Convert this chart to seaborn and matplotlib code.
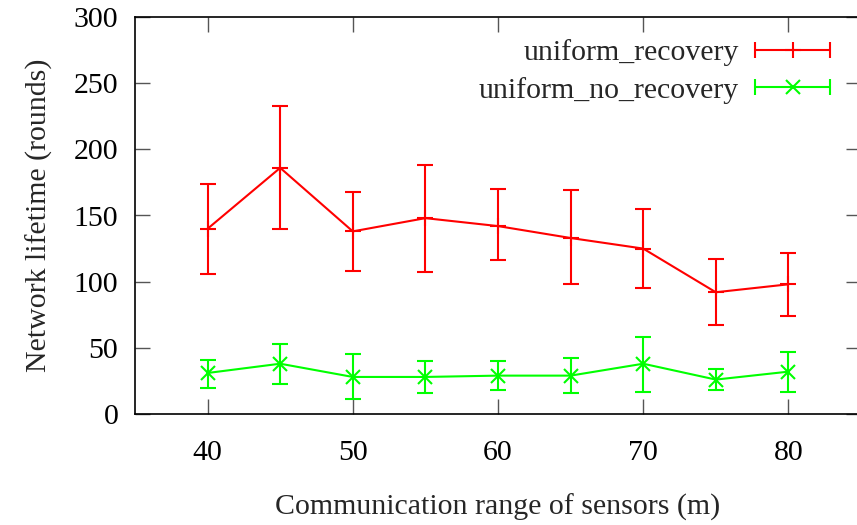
import numpy as np
import pandas as pd
import matplotlib
matplotlib.use("Agg")
import matplotlib.pyplot as plt
import seaborn as sns
from matplotlib.lines import Line2D
from matplotlib.legend_handler import HandlerLine2D, HandlerTuple

# Data
comm_range = [40, 45, 50, 55, 60, 65, 70, 75, 80]
rec_mean = [140, 186, 138, 148, 142, 133, 125, 92, 98]
rec_low = [106, 140, 108, 107, 116, 98, 95, 67, 74]
rec_high = [174, 233, 168, 188, 170, 169, 155, 117, 122]
norec_mean = [31, 38, 28, 28, 29, 29, 38, 26, 32]
norec_low = [20, 23, 11, 16, 18, 16, 17, 18, 17]
norec_high = [41, 53, 45, 40, 40, 42, 58, 34, 47]
series_names = ["uniform_recovery", "uniform_no_recovery"]
x_ticks = [40, 50, 60, 70, 80]
y_ticks = [0, 50, 100, 150, 200, 250, 300]

sns.set_theme(style="ticks")
plt.rcParams["font.family"] = ["Liberation Serif", "DejaVu Serif"]

FS = 21.5
fig = plt.figure(figsize=(8.57, 5.25), dpi=100)
ax = fig.add_axes([135/857, 1-414/525, (861-135)/857, (414-17)/525])

df = pd.DataFrame({
    "x": comm_range * 2,
    "y": rec_mean + norec_mean,
    "series": [series_names[0]] * len(comm_range) + [series_names[1]] * len(comm_range),
})
colors = {series_names[0]: "#ff0000", series_names[1]: "#00ff00"}
markers = {series_names[0]: "+", series_names[1]: "x"}
msizes = {series_names[0]: 12, series_names[1]: 10.5}

errs = {
    series_names[0]: (rec_mean, rec_low, rec_high),
    series_names[1]: (norec_mean, norec_low, norec_high),
}
for name in series_names:
    sub = df[df.series == name]
    sns.lineplot(data=sub, x="x", y="y", ax=ax, color=colors[name], lw=1.5,
                 marker=markers[name], markersize=msizes[name],
                 markeredgewidth=1.5, markeredgecolor=colors[name], legend=False)
    m, lo, hi = errs[name]
    m = np.array(m); lo = np.array(lo); hi = np.array(hi)
    ax.errorbar(comm_range, m, yerr=[m - lo, hi - m], fmt="none",
                ecolor=colors[name], elinewidth=1.5, capsize=6, capthick=1.5)

ax.set_xlim(35, 85)
ax.set_ylim(0, 300)
ax.set_xticks(x_ticks)
ax.set_yticks(y_ticks)
ax.tick_params(direction="in", length=10.8, width=1.0, color="#555555",
               top=True, right=True, labelsize=FS, labelcolor="black")
ax.tick_params(axis="x", pad=19)
ax.tick_params(axis="y", pad=12)
for s in ax.spines.values():
    s.set_color("black")
    s.set_linewidth(1.2)
ax.set_xlabel("Communication range of sensors (m)", fontsize=FS, labelpad=20)
ax.set_ylabel("Network lifetime (rounds)", fontsize=FS, labelpad=15)

# Legend handles (gnuplot-like error bar sample)
handles = []
hmap = {}
for name in series_names:
    caps = Line2D([], [], color=colors[name], lw=1.5, marker="|",
                  markersize=12, markeredgewidth=1.5)
    mk = Line2D([], [], color=colors[name], ls="none", marker=markers[name],
                markersize=msizes[name], markeredgewidth=1.5)
    hmap[caps] = HandlerLine2D(numpoints=2, marker_pad=0)
    hmap[mk] = HandlerLine2D(numpoints=1)
    handles.append((caps, mk))
hmap[tuple] = HandlerTuple(ndivide=1)
leg = ax.legend(handles, series_names, handler_map=hmap, loc="upper right",
                bbox_to_anchor=(830/857, 1-39/525), bbox_transform=fig.transFigure,
                frameon=False, fontsize=FS, markerfirst=False, borderpad=0,
                borderaxespad=0, handlelength=2.5, handletextpad=0.55,
                labelspacing=0.36)

fig.savefig("out.png", dpi=100)
